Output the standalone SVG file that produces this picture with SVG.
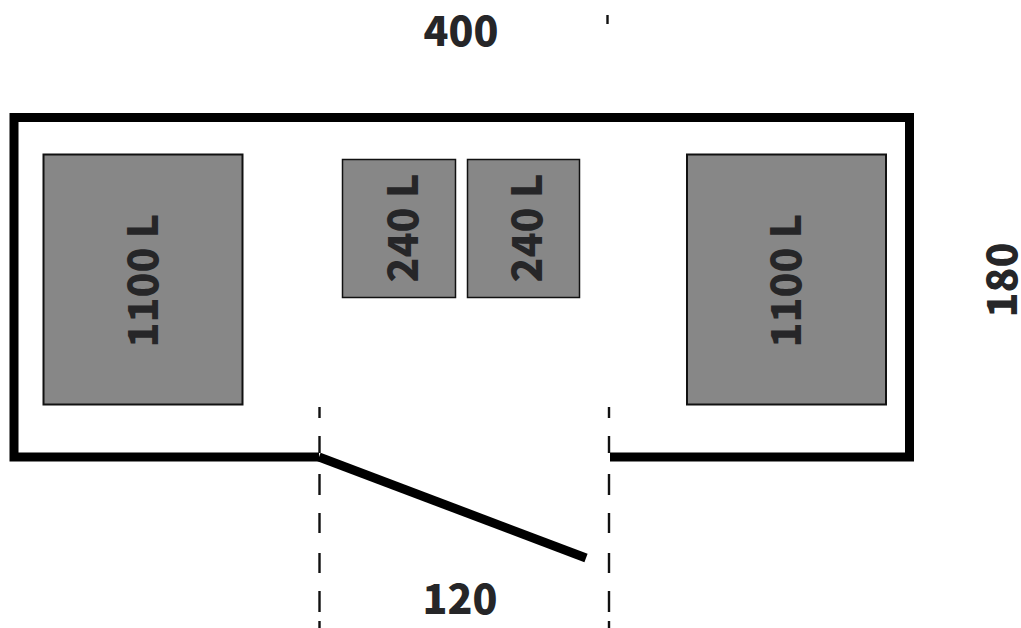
<svg xmlns="http://www.w3.org/2000/svg" width="1021" height="628" viewBox="0 0 1021 628">
<style>
.wall{fill:none;stroke:#000;stroke-width:9}
.dash{fill:none;stroke:#111;stroke-width:2.4}
.bin{fill:#878787;stroke:#111;stroke-width:1.5}
.big{stroke-width:2}
text{font-family:"Noto Sans CJK SC","Noto Sans",sans-serif;font-weight:900;font-size:41px;fill:#262628;text-anchor:middle}
</style>
<rect width="1021" height="628" fill="#fff"/>
<g id="connectors">
<path class="wall" d="M319 457H14V117.500H909.500V457H610"/>
<path class="wall" d="M319 457L586 558"/>
<path class="dash" d="M319.500 407V418M319.500 436V453M319.500 474V495M319.500 513V533M319.500 553V573M319.500 591V612M319.500 621V628"/>
<path class="dash" d="M609 407V418M609 436V453M609 474V495M609 513V533M609 553V573M609 591V612M609 621V628"/>
<path class="dash" d="M607.500 15V24"/>
</g>
<g id="bin-left"><rect class="bin big" x="43.500" y="154.500" width="199" height="250"/><text transform="translate(158,280.500) rotate(-90)">1100 L</text></g>
<g id="bin-mid-1"><rect class="bin" x="342.500" y="159.500" width="113" height="138"/><text transform="translate(418,228) rotate(-90)">240 L</text></g>
<g id="bin-mid-2"><rect class="bin" x="467.500" y="159.500" width="112" height="138"/><text transform="translate(542,228) rotate(-90)">240 L</text></g>
<g id="bin-right"><rect class="bin big" x="687" y="154.500" width="199" height="250"/><text transform="translate(801,280.500) rotate(-90)">1100 L</text></g>
<g id="dim-400"><text x="461" y="46">400</text></g>
<g id="dim-180"><text transform="translate(1017,280) rotate(-90)">180</text></g>
<g id="dim-120"><text x="460" y="614">120</text></g>
</svg>
